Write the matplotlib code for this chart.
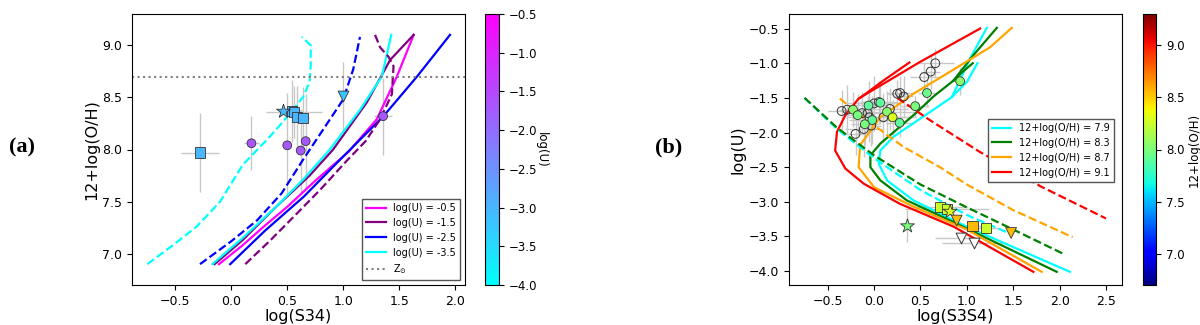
import numpy as np
import matplotlib
matplotlib.use("Agg")
import matplotlib.pyplot as plt
from matplotlib.cm import ScalarMappable
from matplotlib.colors import Normalize

# ---- panel (a): log(S34) vs 12+log(O/H), model tracks at fixed log(U) ----
magenta_x = [-0.11, 0.10, 0.30, 0.50, 0.75, 1.05, 1.30, 1.48, 1.63]
magenta_y = [6.90, 7.08, 7.27, 7.45, 7.70, 7.98, 8.29, 8.70, 9.10]
purple_x = [-0.15, 0.10, 0.40, 0.70, 0.91, 1.21, 1.42, 1.63]
purple_y = [6.90, 7.13, 7.45, 7.75, 8.00, 8.45, 8.86, 9.10]
blue_x = [-0.01, 0.30, 0.65, 0.97, 1.36, 1.66, 1.955]
blue_y = [6.90, 7.22, 7.55, 7.90, 8.32, 8.70, 9.10]
cyan_x = [-0.17, 0.10, 0.40, 0.65, 0.88, 1.15, 1.345, 1.43]
cyan_y = [6.90, 7.15, 7.45, 7.72, 8.00, 8.38, 8.70, 9.10]

cyan_d_x = [-0.75, -0.50, -0.31, -0.10, 0.10, 0.35, 0.53, 0.645, 0.70, 0.71, 0.71, 0.63]
cyan_d_y = [6.90, 7.10, 7.26, 7.50, 7.85, 8.13, 8.35, 8.51, 8.65, 8.80, 9.00, 9.08]
blue_d_x = [-0.28, 0.00, 0.23, 0.45, 0.64, 0.82, 1.00, 1.09, 1.15]
blue_d_y = [6.90, 7.12, 7.32, 7.58, 7.90, 8.19, 8.48, 8.77, 9.08]
purple_d_x = [0.125, 0.35, 0.59, 0.80, 1.03, 1.20, 1.33, 1.435, 1.45, 1.405, 1.33, 1.285]
purple_d_y = [6.90, 7.13, 7.39, 7.62, 7.89, 8.08, 8.29, 8.53, 8.80, 8.89, 8.98, 9.10]

z_sun = 8.70

# observed objects, colour = log(U)
a_sq_x = [-0.28, 0.54, 0.56, 0.59, 0.64]
a_sq_y = [7.97, 8.37, 8.36, 8.31, 8.30]
a_sq_xerr = [0.17, 0.08, 0.25, 0.05, 0.05]
a_sq_yerr = [0.38, 0.30, 0.25, 0.30, 0.30]
a_sq_u = [-3.0, -3.0, -3.0, -3.0, -3.0]

a_star_x = [0.46]
a_star_y = [8.37]
a_star_u = [-3.0]

a_tri_x = [1.00]
a_tri_y = [8.51]
a_tri_yerr = [0.33]
a_tri_u = [-3.2]

a_circ_x = [0.18, 0.50, 0.62, 0.665, 1.357]
a_circ_y = [8.06, 8.04, 7.99, 8.08, 8.32]
a_circ_xerr = [0.07, 0.02, 0.02, 0.02, 0.08]
a_circ_yerr = [0.26, 0.50, 0.40, 0.45, 0.37]
a_circ_u = [-1.7, -1.7, -1.7, -1.7, -1.7]

# ---- panel (b): log(S3S4) vs log(U), model tracks at fixed 12+log(O/H) ----
b_cyan_x = [1.215, 1.035, 0.838, 0.497, 0.21, 0.067, 0.05, 0.139, 0.425, 1.0, 2.11]
b_cyan_y = [-0.49, -0.93, -1.49, -1.80, -2.06, -2.26, -2.45, -2.69, -2.98, -3.36, -4.01]
b_cyan_s_x = [1.114, 1.0, 0.838]
b_cyan_s_y = [-1.0, -1.27, -1.49]
b_green_x = [1.323, 1.07, 0.856, 0.64, 0.45, 0.25, 0.067, -0.04, -0.04, 0.067, 0.354, 0.82, 1.969]
b_green_y = [-0.49, -0.885, -1.25, -1.48, -1.72, -1.95, -2.16, -2.33, -2.50, -2.69, -2.98, -3.27, -4.01]
b_green_s_x = [1.064, 0.95, 0.856]
b_green_s_y = [-1.0, -1.13, -1.25]
b_orange_x = [1.484, 1.25, 0.785, 0.425, 0.067, -0.15, -0.167, 0.0, 0.425, 1.0, 1.807]
b_orange_y = [-0.49, -0.77, -1.15, -1.44, -1.78, -2.18, -2.50, -2.79, -3.07, -3.40, -4.01]
b_red_x = [1.143, 0.497, -0.167, -0.31, -0.40, -0.42, -0.31, -0.11, 0.28, 0.86, 1.717]
b_red_y = [-0.5, -0.98, -1.51, -1.75, -1.99, -2.26, -2.52, -2.74, -3.03, -3.36, -4.01]
b_red_s_x = [0.38, 0.10, -0.15]
b_red_s_y = [-0.99, -1.25, -1.50]

b_cyan_d_x = [-0.75, -0.40, 0.0, 0.50, 1.0, 1.45]
b_cyan_d_y = [-1.50, -1.95, -2.37, -2.83, -3.19, -3.45]
b_green_d_x = [-0.75, -0.40, 0.0, 0.50, 1.0, 1.50, 2.04]
b_green_d_y = [-1.50, -1.93, -2.33, -2.75, -3.08, -3.40, -3.75]
b_orange_d_x = [-0.37, -0.08, 0.32, 0.71, 1.0, 1.5, 2.14]
b_orange_d_y = [-1.51, -1.82, -2.21, -2.50, -2.75, -3.12, -3.51]
b_red_d_x = [0.25, 0.60, 1.14, 1.80, 2.50]
b_red_d_y = [-1.50, -1.82, -2.28, -2.78, -3.24]

# open circles (no O/H)
b_open_x = [-0.35, -0.29, -0.20, -0.11, -0.07, -0.05, -0.03, 0.0, 0.05, 0.10,
            0.17, 0.25, 0.28, 0.32, 0.54, 0.61, 0.66, -0.13]
b_open_y = [-1.69, -1.67, -2.02, -1.95, -1.72, -1.78, -1.90, -1.58, -1.56, -1.78,
            -1.66, -1.44, -1.43, -1.48, -1.20, -1.12, -1.00, -1.72]
b_open_xerr = [0.15, 0.10, 0.10, 0.20, 0.15, 0.25, 0.10, 0.30, 0.20, 0.35,
               0.20, 0.10, 0.15, 0.10, 0.15, 0.10, 0.20, 0.10]
b_open_yerr = [0.30, 0.35, 0.30, 0.40, 0.25, 0.35, 0.30, 0.40, 0.30, 0.35,
               0.30, 0.20, 0.25, 0.30, 0.20, 0.25, 0.20, 0.30]

# filled circles, colour = 12+log(O/H)
b_circ_x = [-0.227, -0.177, -0.06, 0.067, 0.139, 0.20, -0.02, -0.10, 0.275, 0.443, 0.57, 0.928]
b_circ_y = [-1.67, -1.75, -1.61, -1.57, -1.70, -1.78, -1.82, -1.88, -1.86, -1.62, -1.43, -1.26]
b_circ_xerr = [0.10, 0.15, 0.20, 0.15, 0.30, 0.20, 0.25, 0.15, 0.15, 0.15, 0.10, 0.10]
b_circ_yerr = [0.25, 0.30, 0.35, 0.30, 0.30, 0.25, 0.35, 0.30, 0.20, 0.15, 0.20, 0.20]
b_circ_oh = [8.05, 8.0, 7.9, 7.9, 8.05, 8.3, 7.9, 8.0, 7.9, 8.0, 7.95, 8.05]

b_sq_x = [0.71, 0.785, 1.06, 1.21]
b_sq_y = [-3.07, -3.10, -3.35, -3.38]
b_sq_xerr = [0.30, 0.45, 0.10, 0.15]
b_sq_yerr = [0.05, 0.05, 0.05, 0.05]
b_sq_oh = [8.25, 8.25, 8.55, 8.25]

b_star_x = [0.36, 0.82]
b_star_y = [-3.35, -3.14]
b_star_xerr = [0.05, 0.05]
b_star_yerr = [0.23, 0.05]
b_star_oh = [8.0, 8.3]

b_tri_x = [0.89, 1.477]
b_tri_y = [-3.27, -3.45]
b_tri_oh = [8.55, 8.55]

b_otri_x = [0.935, 1.08]
b_otri_y = [-3.52, -3.59]
b_otri_xerr = [0.28, 0.35]

fig = plt.figure(figsize=(12, 3.25), dpi=100)
ax1 = fig.add_axes([0.1098, 0.1231, 0.2778, 0.8338])
cax1 = fig.add_axes([0.4042, 0.1231, 0.0119, 0.8338])
ax2 = fig.add_axes([0.6573, 0.1231, 0.2775, 0.8338])
cax2 = fig.add_axes([0.9523, 0.1231, 0.0111, 0.8338])

lw = 1.6
grey = '#c8c8c8'

# panel (a)
ax1.plot(magenta_x, magenta_y, color='magenta', lw=lw, label='log(U) = -0.5')
ax1.plot(purple_x, purple_y, color='purple', lw=lw, label='log(U) = -1.5')
ax1.plot(blue_x, blue_y, color='blue', lw=lw, label='log(U) = -2.5')
ax1.plot(cyan_x, cyan_y, color='cyan', lw=lw, label='log(U) = -3.5')
ax1.plot(cyan_d_x, cyan_d_y, color='cyan', lw=lw, ls='--')
ax1.plot(blue_d_x, blue_d_y, color='blue', lw=lw, ls='--')
ax1.plot(purple_d_x, purple_d_y, color='purple', lw=lw, ls='--')
ax1.axhline(z_sun, color='grey', ls=':', lw=1.5, label=r'Z$_{\odot}$')

norm_u = Normalize(-4.0, -0.5)
ax1.errorbar(a_sq_x, a_sq_y, xerr=a_sq_xerr, yerr=a_sq_yerr, fmt='none', ecolor=grey, elinewidth=1, zorder=1)
ax1.errorbar(a_circ_x, a_circ_y, xerr=a_circ_xerr, yerr=a_circ_yerr, fmt='none', ecolor=grey, elinewidth=1, zorder=1)
ax1.errorbar(a_tri_x, a_tri_y, yerr=a_tri_yerr, fmt='none', ecolor=grey, elinewidth=1, zorder=1)
ax1.scatter(a_circ_x, a_circ_y, c=a_circ_u, cmap='cool', norm=norm_u, marker='o', s=40, edgecolors='#333333', linewidths=0.6, zorder=3)
ax1.scatter(a_sq_x, a_sq_y, c=a_sq_u, cmap='cool', norm=norm_u, marker='s', s=55, edgecolors='#333333', linewidths=0.6, zorder=3)
ax1.scatter(a_star_x, a_star_y, c=a_star_u, cmap='cool', norm=norm_u, marker='*', s=110, edgecolors='#333333', linewidths=0.6, zorder=3)
ax1.scatter(a_tri_x, a_tri_y, c=a_tri_u, cmap='cool', norm=norm_u, marker='v', s=60, edgecolors='#333333', linewidths=0.6, zorder=3)

ax1.set_xlim(-0.89, 2.09)
ax1.set_ylim(6.70, 9.30)
ax1.set_xticks([-0.5, 0.0, 0.5, 1.0, 1.5, 2.0])
ax1.set_yticks([7.0, 7.5, 8.0, 8.5, 9.0])
ax1.tick_params(labelsize=9)
ax1.set_xlabel('log(S34)', fontsize=11.5, labelpad=1)
ax1.set_ylabel('12+log(O/H)', fontsize=11.5, labelpad=2)
ax1.legend(loc='lower right', fontsize=7, fancybox=False, edgecolor='#555555', framealpha=1)

cb1 = fig.colorbar(ScalarMappable(norm=norm_u, cmap='cool'), cax=cax1)
cb1.set_ticks(np.arange(-4.0, -0.49, 0.5))
cb1.ax.tick_params(labelsize=8.5)
fig.text(0.451, 0.54, 'log(U)', rotation=270, fontsize=8.5, ha='center', va='center')

# panel (b)
ax2.plot(b_cyan_x, b_cyan_y, color='cyan', lw=lw, label='12+log(O/H) = 7.9')
ax2.plot(b_green_x, b_green_y, color='green', lw=lw, label='12+log(O/H) = 8.3')
ax2.plot(b_orange_x, b_orange_y, color='orange', lw=lw, label='12+log(O/H) = 8.7')
ax2.plot(b_red_x, b_red_y, color='red', lw=lw, label='12+log(O/H) = 9.1')
ax2.plot(b_cyan_s_x, b_cyan_s_y, color='cyan', lw=lw)
ax2.plot(b_green_s_x, b_green_s_y, color='green', lw=lw)
ax2.plot(b_red_s_x, b_red_s_y, color='red', lw=lw)
ax2.plot(b_cyan_d_x, b_cyan_d_y, color='cyan', lw=lw, ls='--')
ax2.plot(b_green_d_x, b_green_d_y, color='green', lw=lw, ls='--')
ax2.plot(b_orange_d_x, b_orange_d_y, color='orange', lw=lw, ls='--')
ax2.plot(b_red_d_x, b_red_d_y, color='red', lw=lw, ls='--')

norm_oh = Normalize(6.7, 9.3)
ax2.errorbar(b_open_x, b_open_y, xerr=b_open_xerr, yerr=b_open_yerr, fmt='none', ecolor=grey, elinewidth=1, zorder=1)
ax2.errorbar(b_circ_x, b_circ_y, xerr=b_circ_xerr, yerr=b_circ_yerr, fmt='none', ecolor=grey, elinewidth=1, zorder=1)
ax2.errorbar(b_sq_x, b_sq_y, xerr=b_sq_xerr, yerr=b_sq_yerr, fmt='none', ecolor=grey, elinewidth=1, zorder=1)
ax2.errorbar(b_star_x, b_star_y, xerr=b_star_xerr, yerr=b_star_yerr, fmt='none', ecolor=grey, elinewidth=1, zorder=1)
ax2.errorbar(b_otri_x, b_otri_y, xerr=b_otri_xerr, fmt='none', ecolor=grey, elinewidth=1, zorder=1)
ax2.scatter(b_open_x, b_open_y, facecolors='none', edgecolors='#333333', marker='o', s=40, linewidths=0.7, zorder=3)
ax2.scatter(b_circ_x, b_circ_y, c=b_circ_oh, cmap='jet', norm=norm_oh, marker='o', s=40, edgecolors='#333333', linewidths=0.6, zorder=3)
ax2.scatter(b_sq_x, b_sq_y, c=b_sq_oh, cmap='jet', norm=norm_oh, marker='s', s=55, edgecolors='#333333', linewidths=0.6, zorder=3)
ax2.scatter(b_star_x, b_star_y, c=b_star_oh, cmap='jet', norm=norm_oh, marker='*', s=110, edgecolors='#333333', linewidths=0.6, zorder=3)
ax2.scatter(b_tri_x, b_tri_y, c=b_tri_oh, cmap='jet', norm=norm_oh, marker='v', s=60, edgecolors='#333333', linewidths=0.6, zorder=3)
ax2.scatter(b_otri_x, b_otri_y, facecolors='white', edgecolors='#333333', marker='v', s=60, linewidths=0.7, zorder=3)

ax2.set_xlim(-0.92, 2.67)
ax2.set_ylim(-4.20, -0.29)
ax2.set_xticks([-0.5, 0.0, 0.5, 1.0, 1.5, 2.0, 2.5])
ax2.set_yticks([-4.0, -3.5, -3.0, -2.5, -2.0, -1.5, -1.0, -0.5])
ax2.tick_params(labelsize=9)
ax2.set_xlabel('log(S3S4)', fontsize=11.5, labelpad=1)
ax2.set_ylabel('log(U)', fontsize=11.5, labelpad=2)
ax2.legend(loc='upper left', bbox_to_anchor=(0.598, 0.612), borderaxespad=0, fontsize=7,
           fancybox=False, edgecolor='#555555', framealpha=1)

cb2 = fig.colorbar(ScalarMappable(norm=norm_oh, cmap='jet'), cax=cax2)
cb2.set_ticks([7.0, 7.5, 8.0, 8.5, 9.0])
cb2.ax.tick_params(labelsize=8.5)
cb2.set_label('12+log(O/H)', fontsize=8.5, labelpad=2)

fig.text(0.018, 0.545, '(a)', fontsize=16, fontweight='bold', family='Liberation Serif', ha='center', va='center')
fig.text(0.557, 0.545, '(b)', fontsize=16, fontweight='bold', family='Liberation Serif', ha='center', va='center')

fig.savefig('out.png', dpi=100)
